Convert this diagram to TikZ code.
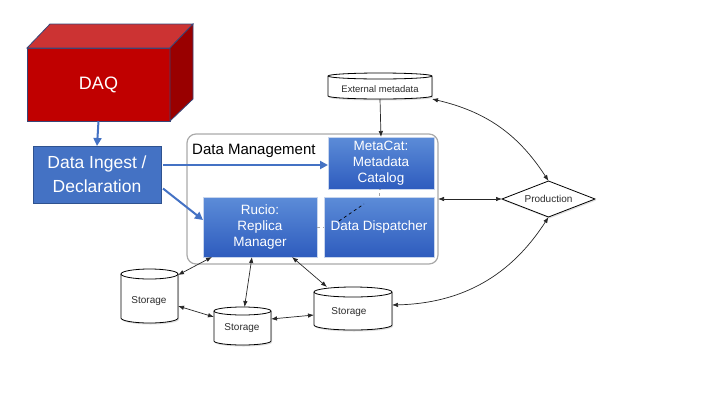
\documentclass[tikz,border=0pt]{standalone}
\usepackage{fontspec}
\setmainfont{Liberation Sans}
\usetikzlibrary{shapes.geometric,arrows.meta,calc,shadows}
\definecolor{dblue}{RGB}{68,114,196}
\definecolor{dborder}{RGB}{47,82,143}
\definecolor{btop}{RGB}{92,140,216}
\definecolor{bbot}{RGB}{46,92,190}
\definecolor{daqfront}{RGB}{192,0,0}
\definecolor{daqtop}{RGB}{204,51,51}
\definecolor{daqside}{RGB}{153,0,0}
\definecolor{daqedge}{RGB}{55,70,120}
\definecolor{dmgray}{RGB}{170,170,170}
\definecolor{txtgray}{RGB}{45,45,45}
\newcommand\drawcyl[2]{%
  \draw[line width=0.8pt,fill=white,drop shadow={opacity=0.25,shadow xshift=1pt,shadow yshift=-1.5pt}]
    let \p1=(#1.north west), \p2=(#1.south east), \n1={(\x2-\x1)/2} in
    (\x1,\y1-#2pt) -- (\x1,\y2+#2pt)
    arc[start angle=180,end angle=360,x radius=\n1,y radius=#2pt]
    -- (\x2,\y1-#2pt)
    arc[start angle=0,end angle=180,x radius=\n1,y radius=#2pt] -- cycle;
  \draw[line width=0.8pt]
    let \p1=(#1.north west), \p2=(#1.south east), \n1={(\x2-\x1)/2} in
    (\x1,\y1-#2pt) arc[start angle=180,end angle=360,x radius=\n1,y radius=#2pt];
}
\begin{document}
\begin{tikzpicture}[x=1pt,y=1pt,
  bluebox/.style={draw=white!70!dblue, line width=0.5pt, top color=btop, bottom color=bbot,
    text=white, font=\fontsize{13.5}{15.8}\selectfont, align=center, inner sep=0pt, outer sep=0pt},
  cylbox/.style={inner sep=0pt, outer sep=0pt},
  smalltext/.style={text=txtgray, font=\fontsize{10}{12}\selectfont, inner sep=0pt},
  arr/.style={{Latex[length=6pt,width=4.5pt]}-{Latex[length=6pt,width=4.5pt]}, line width=0.7pt, black!85},
  bluearr/.style={-{Triangle[length=8pt,width=8pt]}, line width=2pt, dblue},
  dashgray/.style={dashed, line width=0.8pt, gray!70}
]
\useasboundingbox (0,0) rectangle (720,-405);

% Data Management container
\node[draw=dmgray, line width=1.2pt, rounded corners=9pt, fill=white, minimum width=251pt, minimum height=130pt,
  inner sep=0pt, outer sep=0pt] (dm) at (312.5,-199) {};
\node[anchor=base west, inner sep=0pt, font=\fontsize{15}{17}\selectfont] (dmlabel) at (192,-154) {Data Management};

% DAQ 3D box
\node[draw=daqedge, line width=0.8pt, fill=daqfront, minimum width=143pt, minimum height=73pt, inner sep=0pt, outer sep=0pt,
  text=white, font=\fontsize{18}{20}\selectfont] (daq) at (98.5,-84.5) {DAQ};
\filldraw[draw=daqedge, line width=0.8pt, fill=daqtop] (daq.north west) -- ++(23,24) -- ++(143,0) -- (daq.north east) -- cycle;
\filldraw[draw=daqedge, line width=0.8pt, fill=daqside] (daq.north east) -- ++(23,24) -- ++(0,-75) -- (daq.south east) -- cycle;

% Data ingest
\node[draw=dborder, line width=0.8pt, fill=dblue, minimum width=128pt, minimum height=57pt, inner sep=0pt, outer sep=0pt,
  text=white, align=center, font=\fontsize{17.5}{24}\selectfont] (ingest) at (97,-174.5) {Data Ingest /\\Declaration};

% Blue boxes
\node[bluebox, minimum width=106pt, minimum height=52pt] (metacat) at (381,-163) {MetaCat:\\Metadata\\Catalog};
\node[bluebox, minimum width=114pt, minimum height=60pt] (rucio) at (260,-227) {Rucio:\\Replica\\Manager};
\node[bluebox, minimum width=110pt, minimum height=60pt] (disp) at (379,-227) {Data Dispatcher};

% External metadata
\node[cylbox, minimum width=104pt, minimum height=26pt] (ext) at (380,-86) {};
\drawcyl{ext}{3}
\node[smalltext, font=\fontsize{9.5}{11}\selectfont] (extt) at (380,-89) {External metadata};

% Production
\node[diamond, aspect=2.6, draw, line width=0.8pt, fill=white, minimum width=93pt, minimum height=36pt, inner sep=0pt,
  outer sep=0pt, smalltext, drop shadow={opacity=0.25,shadow xshift=1pt,shadow yshift=-1.5pt}] (prod) at (548.5,-199) {Production};

% Storages
\node[cylbox, minimum width=57pt, minimum height=54pt] (s1) at (149.5,-296) {};
\drawcyl{s1}{5}
\node[smalltext] (s1t) at (149,-301) {Storage};
\node[cylbox, minimum width=57pt, minimum height=38pt] (s2) at (242.5,-326) {};
\drawcyl{s2}{4}
\node[smalltext] (s2t) at (242,-328) {Storage};
\node[cylbox, minimum width=78pt, minimum height=43pt] (s3) at (353,-308.5) {};
\drawcyl{s3}{5}
\node[smalltext] (s3t) at (349,-312) {Storage};

% Blue arrows
\draw[bluearr] (daq.south) -- (ingest.north);
\coordinate (a1) at (0,-165);
\draw[bluearr] ([xshift=2]ingest.east |- a1) -- (metacat.west |- a1);
\draw[bluearr] ([xshift=2,yshift=-14]ingest.east) -- ([yshift=7]rucio.west);

% Dashed links
\draw[dashgray] (metacat.south) -- (disp.north |- metacat.south) -- ++(0,-8);
\draw[dashgray] (rucio.east) -- (disp.west);
\draw[dashed, line width=0.7pt] ([xshift=-40,yshift=6]disp.center) -- ([xshift=-15,yshift=23]disp.center);

% Black connectors
\draw[-{Latex[length=6pt,width=4.5pt]}, line width=0.7pt, black!85] (ext.south) -- (metacat.north);
\draw[arr] (dm.east) -- (prod.west);
\draw[arr] (ext.south east) to[bend left=22] (prod.north);
\draw[arr] (prod.south) to[bend left=28] ([yshift=3.5]s3.east);
\draw[arr] ([xshift=9]rucio.south west) -- ([yshift=-6]s1.north east);
\draw[arr] ([xshift=-8]rucio.south) -- ([xshift=2]s2.north);
\draw[arr] ([xshift=32]rucio.south) -- ([xshift=-26]s3.north);
\draw[arr] ([yshift=-10]s1.east) -- ([yshift=9]s2.west);
\draw[arr] ([yshift=7]s2.east) -- ([yshift=-6.5]s3.west);
\end{tikzpicture}
\end{document}
